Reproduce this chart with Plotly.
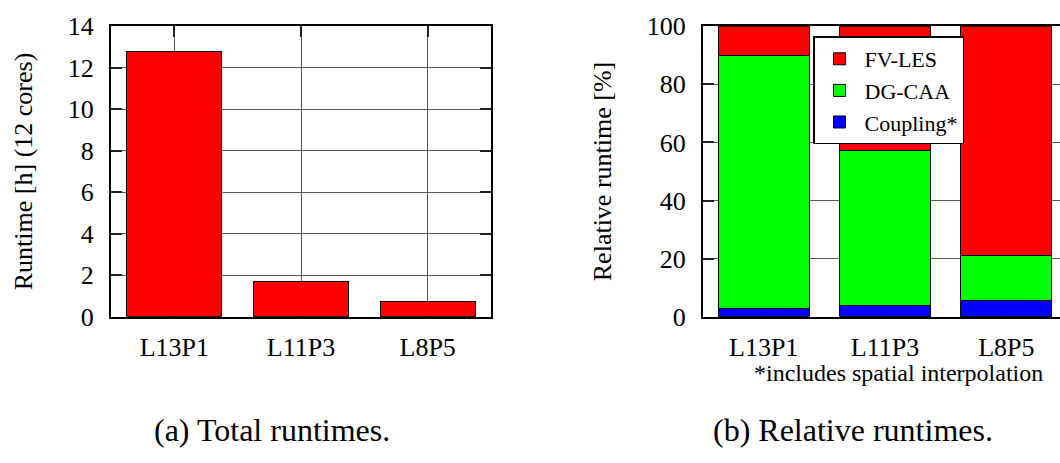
import plotly.graph_objects as go

# ---- data ----
categories = ["L13P1", "L11P3", "L8P5"]
total_runtime_h = [12.8, 1.71, 0.72]
coupling_pct = [3.0, 3.8, 5.7]
dgcaa_pct = [86.8, 53.3, 15.3]
fvles_pct = [10.2, 42.9, 79.0]
left_yticks = [0, 2, 4, 6, 8, 10, 12, 14]
right_yticks = [0, 20, 40, 60, 80, 100]

FONT = "Liberation Serif"
RED, GREEN, BLUE = "#ff0000", "#00ff00", "#0000ff"
GRID = "#5a5a5a"

fig = go.Figure()

fig.add_trace(go.Bar(x=categories, y=total_runtime_h, width=0.75,
                     marker=dict(color=RED, line=dict(color="black", width=1)),
                     showlegend=False, xaxis="x", yaxis="y"))

for name, vals, col in [("Coupling*", coupling_pct, BLUE),
                        ("DG-CAA", dgcaa_pct, GREEN),
                        ("FV-LES", fvles_pct, RED)]:
    fig.add_trace(go.Bar(x=categories, y=vals, name=name, width=0.75,
                         marker=dict(color=col, line=dict(color="black", width=1)),
                         xaxis="x2", yaxis="y2"))

tickfont = dict(family=FONT, size=26, color="black")
titlefont = dict(family=FONT, size=26, color="black")
common_x = dict(type="category", showline=True, linecolor="black", linewidth=2,
                ticks="inside", ticklen=11, tickwidth=1.5, tickcolor="#222",
                showgrid=True, gridcolor=GRID, gridwidth=1, zeroline=False,
                tickfont=tickfont, layer="below traces", ticklabelstandoff=6,
                ticklabeloverflow="allow")
common_y = dict(showline=True, linecolor="black", linewidth=2,
                ticks="inside", ticklen=11, tickwidth=1.5, tickcolor="#222",
                showgrid=True, gridcolor=GRID, gridwidth=1, zeroline=False,
                tickfont=tickfont, layer="below traces", ticklabelstandoff=10,
                ticklabeloverflow="allow")

ydom = [140 / 463, 450 / 463]

fig.update_layout(
    width=1060, height=463,
    margin=dict(l=0, r=0, t=0, b=0),
    paper_bgcolor="white", plot_bgcolor="white",
    barmode="stack", bargap=0.25,
    xaxis=dict(common_x, domain=[111 / 1060, 491 / 1060], range=[-0.5, 2.5],
               mirror="ticks", anchor="y"),
    yaxis=dict(common_y, domain=ydom, range=[0, 14], tickvals=left_yticks,
               mirror="ticks", anchor="x",
               title=dict(text="Runtime [h] (12 cores)", standoff=28, font=titlefont)),
    xaxis2=dict(common_x, domain=[703 / 1060, 1.0], range=[-0.5, 2.442],
                mirror="ticks", anchor="y2"),
    yaxis2=dict(common_y, domain=ydom, range=[0, 100], tickvals=right_yticks,
                mirror=False, anchor="x2",
                title=dict(text="Relative runtime [%]", standoff=28, font=titlefont)),
    yaxis3=dict(overlaying="y2", side="right", anchor="x2", range=[0, 100],
                tickvals=right_yticks, showline=False, ticks="inside", ticklen=7,
                tickwidth=1.5, tickcolor="#222", showticklabels=False,
                showgrid=False, zeroline=False),
    legend=dict(x=813 / 1060, y=1 - 24 / 463, xanchor="left", yanchor="top",
                bgcolor="white", bordercolor="black", borderwidth=1.5,
                traceorder="reversed", itemwidth=40, tracegroupgap=0,
                font=dict(family=FONT, size=22, color="black")),
)

fig.add_annotation(text="*includes spatial interpolation", xref="paper", yref="paper",
                   x=898 / 1060, y=1 - 383 / 463, xanchor="center", yanchor="middle",
                   showarrow=False, font=dict(family=FONT, size=24, color="black"))
fig.add_annotation(text="(a) Total runtimes.", xref="paper", yref="paper",
                   x=272 / 1060, y=1 - 444 / 463, xanchor="center", yanchor="middle",
                   showarrow=False, font=dict(family=FONT, size=32, color="black"))
fig.add_annotation(text="(b) Relative runtimes.", xref="paper", yref="paper",
                   x=853 / 1060, y=1 - 444 / 463, xanchor="center", yanchor="middle",
                   showarrow=False, font=dict(family=FONT, size=32, color="black"))

fig.write_html("out.html", config={"displayModeBar": False},
               post_script="document.body.style.margin='0';document.body.style.overflow='hidden';")
